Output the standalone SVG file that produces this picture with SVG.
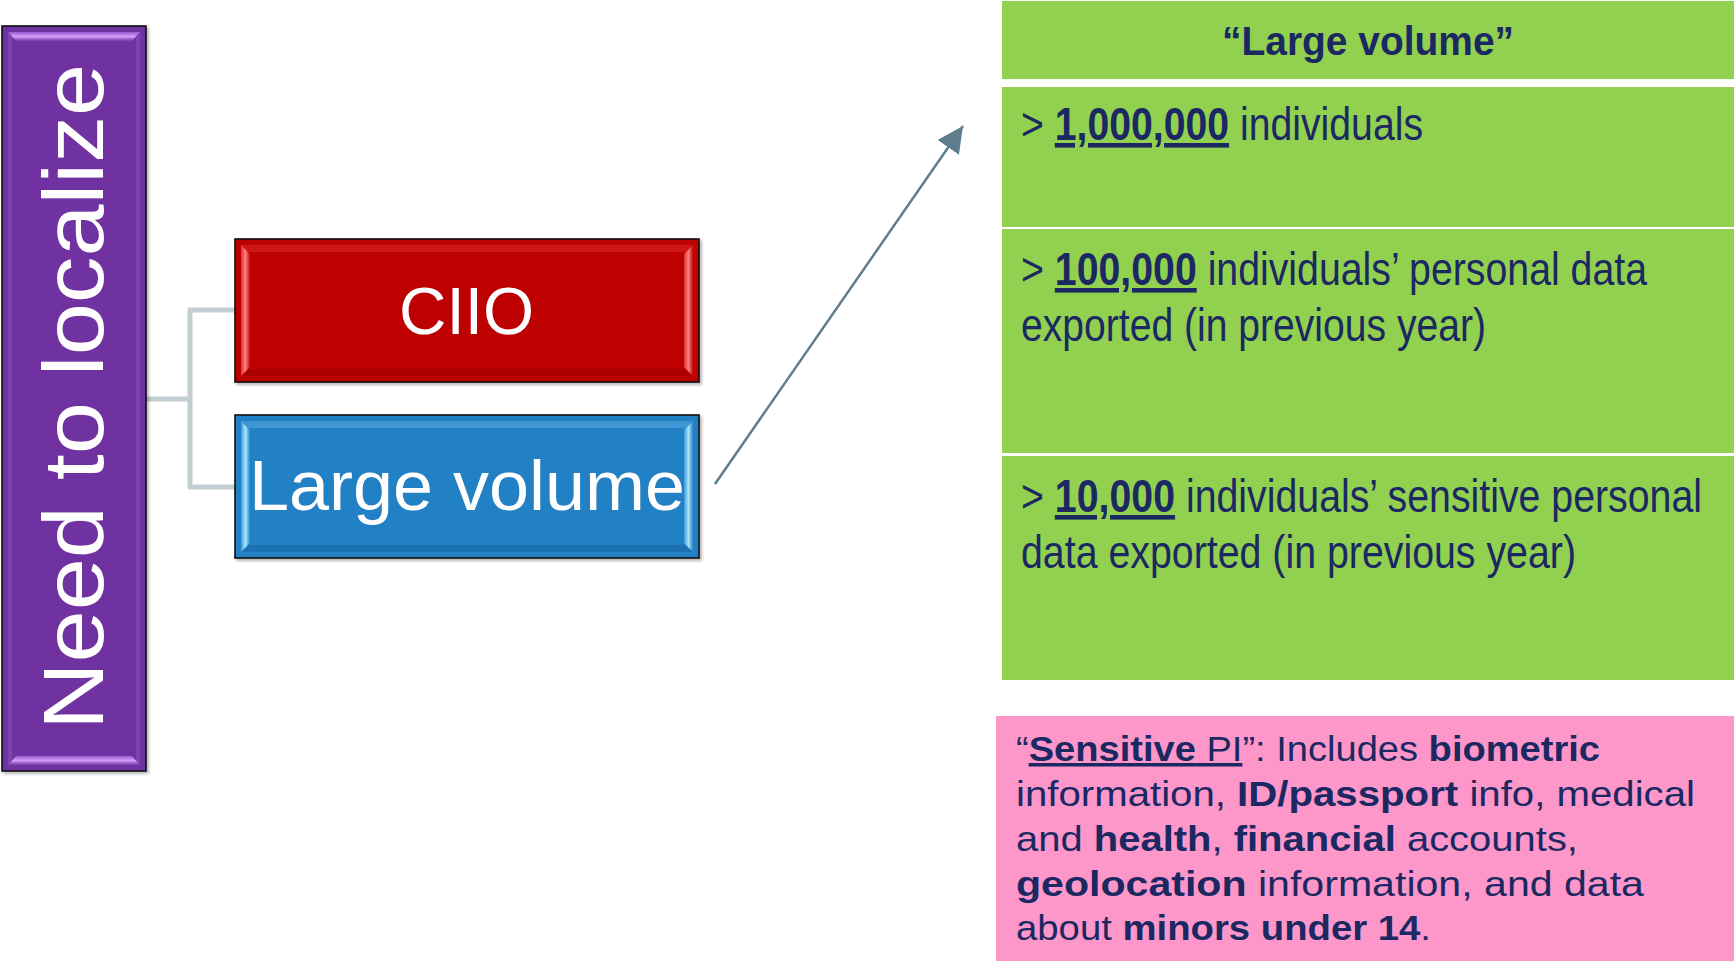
<svg xmlns="http://www.w3.org/2000/svg" width="1734" height="961" viewBox="0 0 1734 961">
<defs>
<style>
.wt{fill:#ffffff;font-family:"Liberation Sans",Arial,sans-serif;}
.nv{fill:#1b2862;font-family:"Liberation Sans",Arial,sans-serif;}
.b{font-weight:bold;}
.u{text-decoration:underline;}
.conn{fill:none;stroke:#c3ced3;stroke-width:5;stroke-linejoin:round;}
.box{stroke:#111;stroke-width:1.6;}
</style>
<filter id="sh" x="-5%" y="-5%" width="115%" height="115%">
<feDropShadow dx="2" dy="2" stdDeviation="1.5" flood-color="#000" flood-opacity="0.3"/>
</filter>
<linearGradient id="redL" x1="0" y1="0" x2="1" y2="0"><stop offset="0" stop-color="#e23030"/><stop offset="0.5" stop-color="#ff8080"/><stop offset="1" stop-color="#c40808"/></linearGradient>
<linearGradient id="blueL" x1="0" y1="0" x2="1" y2="0"><stop offset="0" stop-color="#3a9ade"/><stop offset="0.5" stop-color="#a8e4ff"/><stop offset="1" stop-color="#2a86c8"/></linearGradient>
<linearGradient id="purT" x1="0" y1="0" x2="0" y2="1"><stop offset="0" stop-color="#9a5ad0"/><stop offset="0.5" stop-color="#d49cf8"/><stop offset="1" stop-color="#7a38aa"/></linearGradient>
<marker id="ah" viewBox="0 0 26 26" refX="26" refY="13" markerWidth="26" markerHeight="26" markerUnits="userSpaceOnUse" orient="auto">
<path d="M0,0 L26,13 L0,26 z" fill="#5f7d8e"/>
</marker>
</defs>
<rect width="1734" height="961" fill="#ffffff"/>

<g id="connectors">
<path class="conn" d="M146,399 H190 M190,310 V487 M188,310 H235 M188,487 H235"/>
<line x1="715" y1="484" x2="963" y2="126" stroke="#5f7d8e" stroke-width="2.5" marker-end="url(#ah)"/>
</g>

<g id="node-need-to-localize">
<rect class="box" x="2" y="26" width="144" height="745" fill="#7030a0" filter="url(#sh)"/>
<polygon points="8,32 140,32 132,41 16,41" fill="url(#purT)"/>
<polygon points="16,756 132,756 140,765 8,765" fill="url(#purT)"/>
<polygon points="8,32 12,36 12,761 8,765" fill="#8a4cbc" opacity="0.6"/>
<polygon points="140,32 136,36 136,761 140,765" fill="#8a4cbc" opacity="0.6"/>
<text class="wt" transform="translate(103,730) rotate(-90)" font-size="85" textLength="666" lengthAdjust="spacingAndGlyphs">Need to localize</text>
</g>

<g id="node-ciio">
<rect class="box" x="235" y="239" width="464" height="143" fill="#bd0000" filter="url(#sh)"/>
<polygon points="241,245 693,245 685,252 249,252" fill="#d42020" opacity="0.7"/>
<polygon points="249,369 685,369 693,376 241,376" fill="#a00000" opacity="0.6"/>
<polygon points="241,245 250,254 250,367 241,376" fill="url(#redL)"/>
<polygon points="693,245 684,254 684,367 693,376" fill="url(#redL)"/>
<text class="wt" x="466.5" y="334" font-size="67" text-anchor="middle" textLength="135" lengthAdjust="spacingAndGlyphs">CIIO</text>
</g>

<g id="node-large-volume">
<rect class="box" x="235" y="415" width="464" height="143" fill="#2080c4" filter="url(#sh)"/>
<polygon points="241,421 693,421 685,428 249,428" fill="#4aa0dc" opacity="0.7"/>
<polygon points="249,545 685,545 693,552 241,552" fill="#1868a8" opacity="0.6"/>
<polygon points="241,421 250,430 250,543 241,552" fill="url(#blueL)"/>
<polygon points="693,421 684,430 684,543 693,552" fill="url(#blueL)"/>
<text class="wt" x="249" y="510" font-size="71" textLength="436" lengthAdjust="spacingAndGlyphs">Large volume</text>
</g>

<g id="node-large-volume-table">
<rect x="1002" y="1" width="732" height="78" fill="#92d050"/>
<rect x="1002" y="87" width="732" height="140" fill="#92d050"/>
<rect x="1002" y="229" width="732" height="224" fill="#92d050"/>
<rect x="1002" y="456" width="732" height="224" fill="#92d050"/>
<text class="nv b" x="1222" y="55" font-size="40" textLength="292" lengthAdjust="spacingAndGlyphs">“Large volume”</text>
<text class="nv" x="1021" y="140" font-size="46" textLength="402" lengthAdjust="spacingAndGlyphs">&gt; <tspan class="b u">1,000,000</tspan> individuals</text>
<text class="nv" x="1021" y="285" font-size="46" textLength="626" lengthAdjust="spacingAndGlyphs">&gt; <tspan class="b u">100,000</tspan> individuals’ personal data</text>
<text class="nv" x="1021" y="341" font-size="46" textLength="465" lengthAdjust="spacingAndGlyphs">exported (in previous year)</text>
<text class="nv" x="1021" y="512" font-size="46" textLength="681" lengthAdjust="spacingAndGlyphs">&gt; <tspan class="b u">10,000</tspan> individuals’ sensitive personal</text>
<text class="nv" x="1021" y="568" font-size="46" textLength="555" lengthAdjust="spacingAndGlyphs">data exported (in previous year)</text>
</g>

<g id="node-sensitive-pi">
<rect x="996" y="716" width="738" height="245" fill="#fd97c9"/>
<text class="nv" x="1016" y="761" font-size="35" textLength="584" lengthAdjust="spacingAndGlyphs">“<tspan class="b u">Sensitive</tspan><tspan class="u"> PI</tspan>”: Includes <tspan class="b">biometric</tspan></text>
<text class="nv" x="1016" y="806" font-size="35" textLength="679" lengthAdjust="spacingAndGlyphs">information, <tspan class="b">ID/passport</tspan> info, medical</text>
<text class="nv" x="1016" y="851" font-size="35" textLength="562" lengthAdjust="spacingAndGlyphs">and <tspan class="b">health</tspan>, <tspan class="b">financial</tspan> accounts,</text>
<text class="nv" x="1016" y="896" font-size="35" textLength="628" lengthAdjust="spacingAndGlyphs"><tspan class="b">geolocation</tspan> information, and data</text>
<text class="nv" x="1016" y="940" font-size="35" textLength="415" lengthAdjust="spacingAndGlyphs">about <tspan class="b">minors under 14</tspan>.</text>
</g>
</svg>
